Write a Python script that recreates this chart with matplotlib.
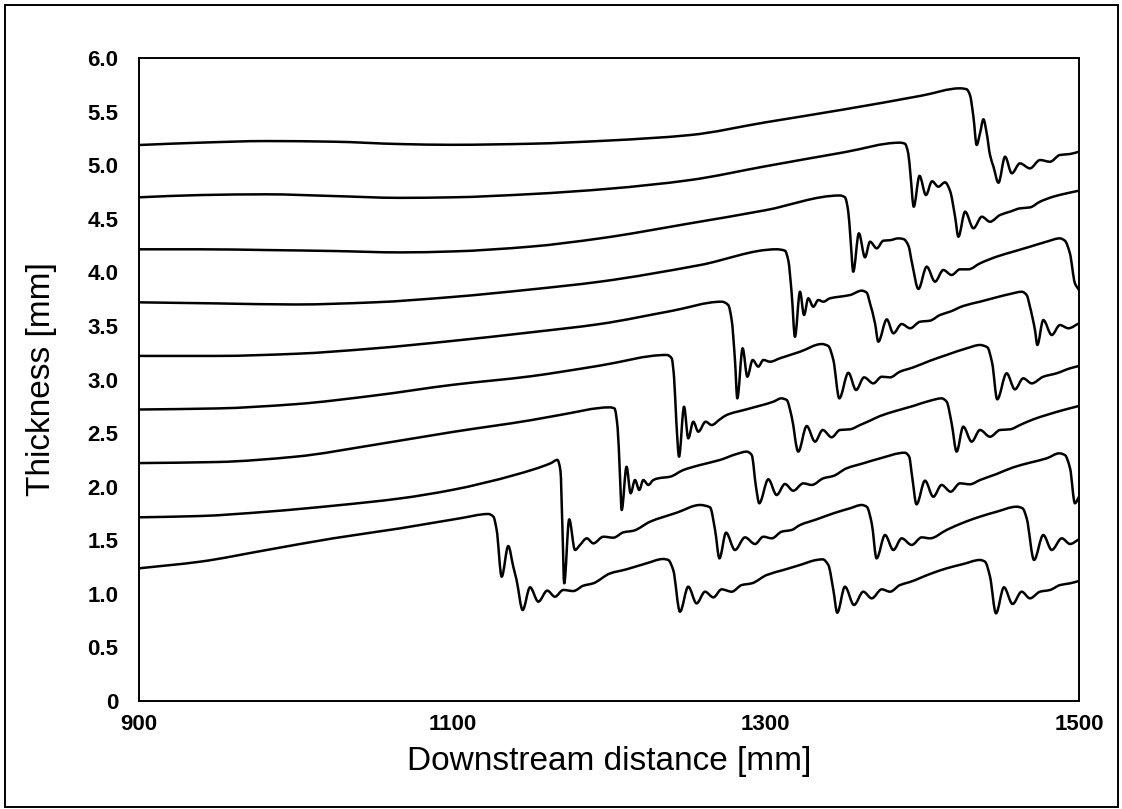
import matplotlib
matplotlib.use("Agg")
import matplotlib.pyplot as plt
from matplotlib.patches import Rectangle, PathPatch
from matplotlib.path import Path

# (distance mm, thickness mm), one list per time step
trace_0 = [(900, 1.238), (939, 1.30), (981.5, 1.409), (1024, 1.518), (1066.6, 1.611), (1105, 1.705),
           (1123, 1.745), (1126.2, 1.72), (1128.3, 1.596), (1131.5, 1.16), (1135.7, 1.446), (1138.9, 1.253),
           (1141, 1.129), (1144.9, 0.849), (1149.6, 1.061), (1154.9, 0.927), (1160.6, 1.03), (1165.5, 0.973),
           (1170.8, 1.036), (1177.2, 1.026), (1183.6, 1.076), (1189.9, 1.098), (1200.6, 1.19), (1211.2, 1.229),
           (1224, 1.285), (1234.6, 1.325), (1237.8, 1.316), (1241, 1.222), (1245.3, 0.833), (1250.6, 1.067),
           (1255.9, 0.911), (1261.3, 1.02), (1266.6, 0.967), (1271.9, 1.042), (1278.3, 1.02), (1284.7, 1.082),
           (1291.1, 1.098), (1300.7, 1.176), (1311.2, 1.222), (1321.9, 1.269), (1332.5, 1.316), (1336.4, 1.322),
           (1340, 1.269), (1343.2, 1.036), (1345.7, 0.824), (1350.6, 1.067), (1356.4, 0.896), (1362.3, 1.02),
           (1367.7, 0.958), (1374.1, 1.042), (1379.4, 1.02), (1385.7, 1.082), (1392, 1.11), (1404.9, 1.185),
           (1415.5, 1.238), (1426.1, 1.278), (1436.8, 1.316), (1440, 1.30), (1443.2, 1.16), (1447, 0.818),
           (1452.1, 1.061), (1457.6, 0.905), (1463.4, 1.02), (1468.7, 0.958), (1475.1, 1.02), (1481.5, 1.036),
           (1487.9, 1.082), (1494.3, 1.098), (1500, 1.12)]

trace_1 = [(900, 1.714), (938.9, 1.726), (981.5, 1.766), (1024, 1.822), (1066.6, 1.89), (1100, 1.97),
           (1140, 2.11), (1163, 2.22), (1167, 2.25), (1169, 2.15), (1170.3, 1.6), (1171.4, 1.098),
           (1174.6, 1.695), (1178.3, 1.409), (1181.5, 1.456), (1185.8, 1.518), (1190, 1.471), (1196.4, 1.533),
           (1202.8, 1.524), (1209.2, 1.574), (1215.6, 1.589), (1226.2, 1.673), (1243.2, 1.757), (1258.1, 1.829),
           (1264.5, 1.807), (1267.7, 1.596), (1270.5, 1.331), (1274.7, 1.571), (1280.4, 1.409), (1286.8, 1.527),
           (1293.2, 1.465), (1298.5, 1.533), (1303.9, 1.518), (1310.2, 1.58), (1316.6, 1.596), (1321.9, 1.642),
           (1332.5, 1.695), (1343.2, 1.751), (1353.8, 1.798), (1361.3, 1.829), (1364.5, 1.813), (1367.7, 1.658),
           (1370.8, 1.331), (1376.2, 1.549), (1381.5, 1.409), (1386.8, 1.518), (1393.2, 1.456), (1399.6, 1.527),
           (1404.9, 1.518), (1415.5, 1.596), (1426.1, 1.664), (1436.8, 1.72), (1447.4, 1.766), (1460.2, 1.813),
           (1464, 1.798), (1466.6, 1.705), (1471.3, 1.316), (1477.2, 1.549), (1482.6, 1.409), (1489, 1.518),
           (1494.3, 1.465), (1500, 1.509)]

trace_2 = [(900, 2.22), (950, 2.23), (1000, 2.28), (1050, 2.39), (1100, 2.51), (1150, 2.62), (1168.7, 2.669),
           (1200.6, 2.74), (1203.5, 2.73), (1205.5, 2.55), (1207, 2.1), (1208.1, 1.782), (1211.2, 2.186),
           (1213.8, 1.938), (1216.6, 2.062), (1219.3, 1.969), (1221.9, 2.062), (1225.1, 2.016), (1228.3, 2.062),
           (1231.5, 2.078), (1239, 2.093), (1247.4, 2.155), (1258.1, 2.202), (1270.8, 2.249), (1281.5, 2.305),
           (1287.9, 2.327), (1291.1, 2.295), (1293.8, 2.0), (1295.9, 1.845), (1301.7, 2.069), (1307, 1.922),
           (1312.3, 2.025), (1317.6, 1.962), (1324, 2.031), (1329.4, 2.016), (1336.8, 2.078), (1343.2, 2.1),
           (1351.6, 2.171), (1362.3, 2.218), (1373, 2.264), (1388.8, 2.317), (1391.6, 2.28), (1393.5, 2.093),
           (1396.3, 1.835), (1401.7, 2.056), (1407, 1.906), (1412.3, 2.016), (1418.1, 1.953), (1424, 2.031),
           (1430.4, 2.022), (1436.8, 2.062), (1447.4, 2.118), (1458, 2.18), (1468.7, 2.224), (1479.3, 2.264),
           (1487.4, 2.311), (1491, 2.295), (1494.3, 2.171), (1497.4, 1.845), (1500, 1.906)]

trace_3 = [(900, 2.72), (950, 2.73), (1000, 2.77), (1050, 2.85), (1100, 2.95), (1150, 3.03), (1168.7, 3.07),
           (1194.3, 3.13), (1236.8, 3.229), (1240, 3.198), (1241.5, 3.026), (1243, 2.6), (1244.7, 2.28),
           (1247.9, 2.746), (1250.6, 2.451), (1253.8, 2.606), (1257, 2.513), (1261.7, 2.606), (1265.5, 2.575),
           (1270.8, 2.628), (1275.1, 2.669), (1287.9, 2.722), (1304.9, 2.793), (1310, 2.824), (1313.4, 2.809),
           (1316.6, 2.653), (1320.8, 2.327), (1326.2, 2.566), (1331.5, 2.42), (1336.4, 2.529), (1342.1, 2.461),
           (1347.4, 2.529), (1353.8, 2.535), (1360.2, 2.575), (1366.6, 2.616), (1373, 2.659), (1383.6, 2.709),
           (1394.2, 2.753), (1404.9, 2.802), (1412.3, 2.824), (1415.5, 2.793), (1418.7, 2.591), (1421.9, 2.327),
           (1426.1, 2.56), (1431.5, 2.42), (1436.8, 2.529), (1443.2, 2.466), (1449.6, 2.529), (1456, 2.535),
           (1462.3, 2.575), (1470.8, 2.628), (1479.3, 2.669), (1490, 2.715), (1500, 2.753)]

trace_4 = [(900, 3.22), (950, 3.22), (1000, 3.24), (1050, 3.29), (1100, 3.36), (1150, 3.44), (1194.3, 3.518),
           (1240, 3.64), (1271.9, 3.726), (1276.1, 3.695), (1278.3, 3.555), (1280.4, 3.182), (1281.9, 2.824),
           (1285.3, 3.291), (1288.3, 3.026), (1291.7, 3.182), (1295.3, 3.12), (1298.5, 3.182), (1302.8, 3.166),
           (1309.1, 3.198), (1321.9, 3.259), (1335.8, 3.331), (1340, 3.312), (1343.2, 3.182), (1347, 2.824),
           (1352.8, 3.063), (1357.7, 2.902), (1362.8, 3.02), (1368.7, 2.964), (1374.1, 3.026), (1379.4, 3.02),
           (1385.7, 3.073), (1394.2, 3.113), (1404.9, 3.175), (1415.5, 3.229), (1428.3, 3.291), (1436.8, 3.322),
           (1441.5, 3.3), (1444.6, 3.151), (1447.8, 2.815), (1453.8, 3.058), (1459.1, 2.908), (1464.4, 3.011),
           (1469.8, 2.964), (1477.2, 3.026), (1485.7, 3.058), (1494.2, 3.104), (1500, 3.126)]

trace_5 = [(900, 3.72), (950, 3.71), (1000, 3.70), (1050, 3.72), (1100, 3.77), (1150, 3.84), (1194.3, 3.913),
           (1258.1, 4.068), (1307, 4.215), (1312.3, 4.202), (1314.4, 4.115), (1316.6, 3.804), (1318.7, 3.399),
           (1321.9, 3.819), (1324.5, 3.602), (1327.2, 3.758), (1330.4, 3.679), (1333.6, 3.742), (1336.8, 3.726),
           (1341.1, 3.758), (1347.4, 3.773), (1353.8, 3.788), (1361.3, 3.829), (1364.5, 3.81), (1366.6, 3.711),
           (1369.8, 3.524), (1371.9, 3.353), (1377.3, 3.561), (1381.5, 3.431), (1386.8, 3.518), (1392.2, 3.478),
           (1398.5, 3.539), (1404.9, 3.549), (1411.3, 3.602), (1417.7, 3.633), (1426.1, 3.686), (1436.8, 3.726),
           (1447.4, 3.767), (1456, 3.798), (1463.5, 3.819), (1466.6, 3.788), (1468.7, 3.679), (1471.9, 3.462),
           (1473.4, 3.322), (1477.2, 3.555), (1482.6, 3.415), (1487.8, 3.508), (1493.2, 3.478), (1500, 3.524)]

trace_6 = [(900, 4.215), (938.9, 4.215), (981.5, 4.208), (1024, 4.199), (1066.6, 4.186), (1100, 4.195),
           (1150, 4.24), (1194.3, 4.317), (1251.7, 4.457), (1300, 4.58), (1347.4, 4.717), (1350.6, 4.70),
           (1352.7, 4.57), (1354.2, 4.302), (1355.9, 4.006), (1359.5, 4.364), (1363.4, 4.14), (1366.6, 4.286),
           (1370.9, 4.224), (1375.1, 4.295), (1379.4, 4.3), (1384.7, 4.317), (1388, 4.31), (1391.1, 4.25),
           (1393.5, 4.08), (1397.5, 3.845), (1402.8, 4.053), (1408.1, 3.913), (1413.4, 4.022), (1418.7, 3.975),
           (1424, 4.028), (1429.4, 4.028), (1436.8, 4.084), (1447.4, 4.146), (1458, 4.193), (1468.7, 4.239),
           (1479.3, 4.286), (1487.8, 4.317), (1491, 4.295), (1494.2, 4.177), (1497.4, 3.898), (1500, 3.835)]

trace_7 = [(900, 4.70), (938.9, 4.721), (981.5, 4.728), (1024, 4.712), (1066.6, 4.695), (1100, 4.70),
           (1150, 4.73), (1200, 4.78), (1251.7, 4.861), (1300, 4.99), (1350, 5.12), (1385.7, 5.21),
           (1388.9, 5.2), (1391, 5.11), (1392.5, 4.9), (1394.5, 4.612), (1398.2, 4.9), (1402.3, 4.721),
           (1406.2, 4.85), (1410.2, 4.799), (1414.5, 4.84), (1417.7, 4.76), (1420.9, 4.519), (1423, 4.332),
           (1427.3, 4.566), (1432.6, 4.411), (1438, 4.519), (1443.2, 4.472), (1449.6, 4.535), (1456, 4.566),
           (1462.3, 4.597), (1468.7, 4.606), (1475.1, 4.659), (1483.6, 4.706), (1492.1, 4.737), (1500, 4.762)]

trace_8 = [(900, 5.188), (938.9, 5.21), (981.5, 5.225), (1024, 5.219), (1066.6, 5.197), (1100, 5.19),
           (1150, 5.2), (1200, 5.23), (1251.7, 5.281), (1300, 5.40), (1350, 5.52), (1400, 5.65), (1424, 5.717),
           (1428.3, 5.708), (1430.4, 5.655), (1432.6, 5.452), (1434.7, 5.188), (1436.8, 5.297), (1439, 5.428),
           (1441.1, 5.297), (1443.2, 5.095), (1445.4, 4.986), (1448.6, 4.836), (1452.8, 5.079), (1457.1, 4.924),
           (1462.3, 5.017), (1468.7, 4.97), (1475.1, 5.048), (1481.5, 5.032), (1487.8, 5.095), (1494.2, 5.104),
           (1500, 5.126)]

traces = [trace_0, trace_1, trace_2, trace_3, trace_4, trace_5, trace_6, trace_7, trace_8]

x_ticks = [900, 1100, 1300, 1500]
y_ticks = [0, 0.5, 1.0, 1.5, 2.0, 2.5, 3.0, 3.5, 4.0, 4.5, 5.0, 5.5, 6.0]
y_tick_labels = ["0"] + [f"{v:.1f}" for v in y_ticks[1:]]


def smooth_path(points):
    """Bezier path through the read points, monotone tangents so peaks do not overshoot."""
    xs = [p[0] for p in points]
    ys = [p[1] for p in points]
    n = len(xs)
    h = [xs[k + 1] - xs[k] for k in range(n - 1)]
    d = [(ys[k + 1] - ys[k]) / h[k] for k in range(n - 1)]
    m = [0.0] * n
    m[0], m[-1] = d[0], d[-1]
    for k in range(1, n - 1):
        if d[k - 1] * d[k] <= 0:
            m[k] = 0.0
        else:
            w1 = 2 * h[k] + h[k - 1]
            w2 = h[k] + 2 * h[k - 1]
            m[k] = (w1 + w2) / (w1 / d[k - 1] + w2 / d[k])
    verts = [(xs[0], ys[0])]
    codes = [Path.MOVETO]
    for k in range(n - 1):
        verts += [(xs[k] + h[k] / 3, ys[k] + m[k] * h[k] / 3),
                  (xs[k + 1] - h[k] / 3, ys[k + 1] - m[k + 1] * h[k] / 3),
                  (xs[k + 1], ys[k + 1])]
        codes += [Path.CURVE4] * 3
    return Path(verts, codes)


plt.rcParams['font.family'] = ['Liberation Sans', 'DejaVu Sans']

fig = plt.figure(figsize=(11.22, 8.09), dpi=100)
ax = fig.add_axes([139 / 1122, 1 - 701 / 809, 940 / 1122, 643 / 809])

for tr in traces:
    ax.add_patch(PathPatch(smooth_path(tr), fill=False, edgecolor="black", lw=1.8,
                           joinstyle="round", capstyle="round"))

ax.set_xlim(900, 1500)
ax.set_ylim(0, 6.0)
ax.set_xticks(x_ticks)
ax.set_yticks(y_ticks)
ax.set_yticklabels(y_tick_labels)
ax.tick_params(length=0, labelsize=16)
ax.tick_params(axis="y", pad=15)
ax.tick_params(axis="x", pad=9)
for lab in ax.get_xticklabels() + ax.get_yticklabels():
    lab.set_fontweight("bold")
for sp in ax.spines.values():
    sp.set_linewidth(1.4)

ax.set_xlabel("Downstream distance [mm]", fontsize=24, labelpad=8)
ax.set_ylabel("Thickness [mm]", fontsize=24)
ax.yaxis.set_label_coords(-0.087, 0.5)

# outer box around the whole figure, as on the scanned page
fig.patches.append(Rectangle((5 / 1122, 2 / 809), 1113 / 1122, 802 / 809, transform=fig.transFigure,
                             fill=False, lw=1.4, edgecolor="black"))

fig.savefig("out.png", dpi=100)
